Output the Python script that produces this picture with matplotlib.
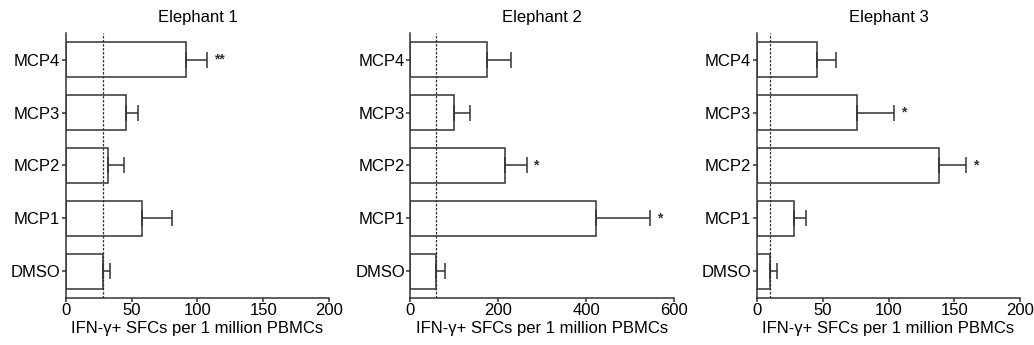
import matplotlib
matplotlib.use("Agg")
import matplotlib.pyplot as plt

plt.rcParams['font.family'] = ['Liberation Sans', 'DejaVu Sans']

groups = ["DMSO", "MCP1", "MCP2", "MCP3", "MCP4"]
titles = ["Elephant 1", "Elephant 2", "Elephant 3"]

# mean SFCs and upper error (end of whisker) per elephant, order as groups
means = [
    [28, 58, 32, 45.5, 91],
    [57, 422, 214, 98, 175],
    [10, 28, 138, 76, 46],
]
err_top = [
    [34, 81, 44, 54.5, 107],
    [78, 545, 264, 135, 228],
    [15.7, 37.3, 159, 104, 60],
]
stars = [
    ["", "", "", "", "**"],
    ["", "*", "*", "", ""],
    ["", "", "*", "*", ""],
]
xmax = [200, 600, 200]
xticks = [[0, 50, 100, 150, 200], [0, 200, 400, 600], [0, 50, 100, 150, 200]]

col = "#333333"
fig = plt.figure(figsize=(10.34, 3.45), dpi=100)
lefts = [0.0635, 0.397, 0.7318]
for k in range(3):
    ax = fig.add_axes([lefts[k], 0.137, 0.255, 0.767])
    y = list(range(len(groups)))
    errs = [e - m for e, m in zip(err_top[k], means[k])]
    ax.barh(y, means[k], height=0.66, color="white", edgecolor=col, linewidth=1.1)
    ax.errorbar(means[k], y, xerr=[[0] * len(y), errs], fmt="none", ecolor=col,
                elinewidth=1.1, capsize=6, capthick=1.1)
    ax.axvline(means[k][0], color=col, linestyle=(0, (2, 1.2)), linewidth=0.9)
    for i, s in enumerate(stars[k]):
        if s:
            ax.annotate(s, (err_top[k][i], y[i]), xytext=(5, 0), textcoords="offset points",
                        ha="left", va="center", fontsize=10, fontweight="bold", color=col)
    ax.set_xlim(0, xmax[k])
    ax.set_ylim(-0.5, 4.5)
    ax.set_xticks(xticks[k])
    ax.set_yticks(y)
    ax.set_yticklabels(groups)
    ax.spines["top"].set_visible(False)
    ax.spines["right"].set_visible(False)
    for sp in ["left", "bottom"]:
        ax.spines[sp].set_color(col)
        ax.spines[sp].set_linewidth(1.1)
    ax.tick_params(axis="both", colors=col, labelcolor="black", labelsize=12,
                   length=3, width=1.1, pad=1)
    ax.set_xlabel("IFN-\u03b3+ SFCs per 1 million PBMCs", fontsize=12, labelpad=2)
    ax.set_title(titles[k], fontsize=12, pad=8)

fig.savefig("out.png", dpi=100)
